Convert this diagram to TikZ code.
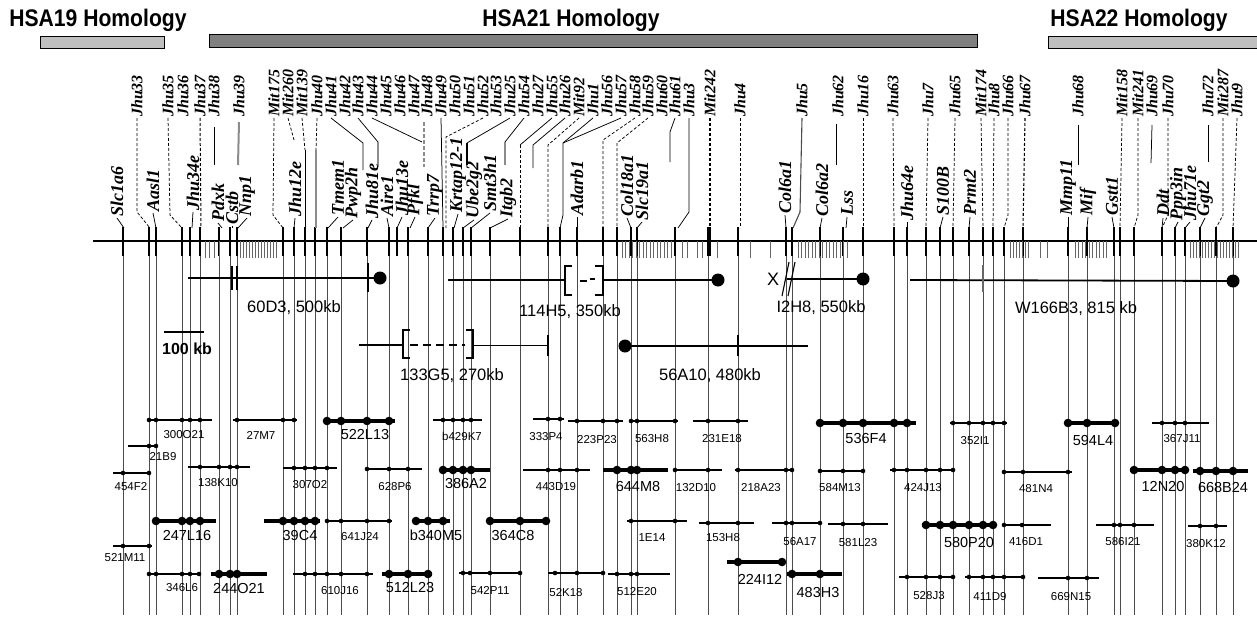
\documentclass[tikz,border=0pt]{standalone}
\usepackage{fontspec}
\setmainfont{Liberation Serif}
\setsansfont{Liberation Sans}
\newcommand\thinclone[7]{\draw[clthin] (#2,#4) -- (#3,#4);\foreach \d in {#5}{\fill (\d,#4) circle[radius=2.3pt];}\node[cllab] (c#1) at (#6,#7) {#1};}
\newcommand\boldclone[7]{\draw[clbold] (#2,#4) -- (#3,#4);\foreach \d in {#5}{\fill (\d,#4) circle[radius=4.3pt];}\node[clblab] (c#1) at (#6,#7) {#1};}
\begin{document}
\begin{tikzpicture}[x=1pt,y=-1pt,
  toplab/.style={rotate=90,anchor=west,inner sep=1pt,font=\fontsize{16}{16}\selectfont\bfseries\itshape},
  genelab/.style={rotate=90,anchor=west,inner sep=1pt,font=\fontsize{18}{18}\selectfont\bfseries\itshape},
  hsa/.style={anchor=base,inner sep=0pt,font=\sffamily\bfseries\fontsize{24}{24}\selectfont},
  dsh/.style={dash pattern=on 3pt off 2pt,line width=0.75pt},
  sol/.style={line width=0.75pt},
  gthick/.style={line width=2pt,black!45},
  vln/.style={line width=0.5pt,black!70},
  tickm/.style={line width=1.5pt},
  hatch/.style={line width=0.9pt,black!60},
  ctg/.style={line width=1.8pt},
  clthin/.style={line width=1.2pt},
  clbold/.style={line width=4pt},
  cllab/.style={inner sep=0pt,font=\sffamily\fontsize{11.5}{11.5}\selectfont},
  clblab/.style={inner sep=0pt,font=\sffamily\fontsize{14.5}{14.5}\selectfont},
  ctglab/.style={inner sep=0pt,font=\sffamily\fontsize{16.5}{16.5}\selectfont}]
\useasboundingbox (0,0) rectangle (1257,621);

% homology bars
\node[hsa] (h19) at (98,26) {\scalebox{0.88}[1]{HSA19 Homology}};
\node[hsa] (h21) at (571,26) {\scalebox{0.88}[1]{HSA21 Homology}};
\node[hsa] (h22) at (1139,26) {\scalebox{0.88}[1]{HSA22 Homology}};
\draw[fill=black!25,line width=0.8pt] (40,36) rectangle (164,48);
\draw[fill=black!50,line width=0.8pt] (209,34) rectangle (977,47);
\fill[black!25] (1048,36) rectangle (1257,48);
\draw[line width=0.8pt] (1257,36) -- (1048,36) -- (1048,48) -- (1257,48);

% long vertical marker lines
\foreach \x in {123,149,156,182,190,200,219,230,237,283,294,305,315,327,341,367,389,408,428,443,453,463,471,490,520,548,560,577,603,617,631,637,675,708,738,786,792,820,843,863,894,907,926,940,953,969,983,993,1004,1023,1068,1087,1114,1120,1134,1162,1175,1185,1200,1216,1233}
  \draw[vln] (\x,241) -- (\x,615);

% chromosome
\draw[line width=1.3pt] (93,241) -- (1257,241);
\foreach \x in {123,149,156,182,190,200,219,230,237,283,294,305,315,327,341,367,389,397,408,428,443,453,463,471,490,520,548,560,577,603,617,631,637,675,708,710,738,786,792,820,843,863,894,907,926,940,953,969,983,993,1004,1023,1068,1087,1114,1120,1134,1162,1175,1185,1200,1216,1233}
  \draw[tickm] (\x,227) -- (\x,256);
\foreach \x in {205,209,214,219,240,243,...,277,622,625.5,...,673,682,687,697,702,717,750,770,798,801.5,...,847,1010,1013,...,1030,1040,1047,1075,1078.5,...,1108,1190,1193,...,1238}
  \draw[hatch] (\x,241) -- (\x,258);

% top marker labels
\foreach \x/\t in {137/Jhu33,168/Jhu35,183/Jhu36,200/Jhu37,214/Jhu38,239/Jhu39,274/Mit175,288/Mit260,302/Mit139,317/Jhu40,331/Jhu41,345/Jhu42,358/Jhu43,372/Jhu44,386/Jhu45,400/Jhu46,414/Jhu47,427/Jhu48,441/Jhu49,455/Jhu50,469/Jhu51,483/Jhu52,496/Jhu53,510/Jhu25,524/Jhu54,538/Jhu27,552/Jhu55,565/Jhu26,579/Mit92,593/Jhu1,607/Jhu56,621/Jhu57,635/Jhu58,648/Jhu59,662/Jhu60,675/Jhu61,689/Jhu3,710/Mit242,740/Jhu4,802/Jhu5,838/Jhu62,863/Jhu16,893/Jhu63,928/Jhu7,955/Jhu65,981/Mit174,994/Jhu8,1008/Jhu66,1025/Jhu67,1078/Jhu68,1122/Mit158,1138/Mit241,1152/Jhu69,1168/Jhu70,1208/Jhu72,1223/Mit287,1237/Jhu9}
  \node[toplab] (\t) at (\x,118) {\t};

% top connectors
\draw[dsh] (Jhu33.west) -- (137,212) -- (150,228);
\draw[dsh] (Jhu35.west) -- (170,215) -- (182,228);
\draw[dsh,line width=1pt] (Jhu37.west) -- (201,228);
\draw[sol] (Jhu38.west) ++(0,9) -- (214,165);
\draw[gthick] (Jhu39.west) ++(0,4) -- (238,165);
\draw[dsh] (Mit175.west) -- (273,215) -- (283,228);
\draw[dsh] (Mit260.west) -- (294,140);
\draw[dsh] (Mit139.west) -- (305,150);
\draw[sol] (305,150) -- (305,228);
\draw[dsh] (Jhu40.west) -- (316,150);
\draw[gthick] (316,150) -- (316,228);
\draw[sol] (Jhu41.west) -- (363,143) -- (363,170);
\draw[sol] (Jhu43.west) -- (378,142);
\draw[gthick] (378,142) -- (378,167);
\draw[sol] (Jhu44.west) -- (422,142);
\draw[gthick,dash pattern=on 4pt off 2pt] (Jhu48.west) ++(-3,4) -- (424,167);
\draw[sol] (Jhu49.west) -- (443,228);
\draw[dsh] (Jhu52.west) -- (446,137) -- (446,228);
\draw[sol] (Jhu25.west) -- (467,143);
\draw[line width=2pt] (467,143) -- (467,165);
\draw[sol] (Jhu54.west) -- (505,142);
\draw[gthick] (505,142) -- (505,165);
\draw[sol] (Jhu55.west) -- (520,145);
\draw[dsh] (520,145) -- (520,228);
\draw[sol] (Jhu26.west) -- (533,145) -- (533,168);
\draw[dsh] (Mit92.west) -- (548,145) -- (548,228);
\draw[sol] (Jhu1.west) -- (563,143) -- (563,215) -- (560,228);
\draw[sol] (Jhu57.west) -- (563,143);
\draw[dsh] (Jhu58.west) -- (603,140) -- (603,228);
\draw[dsh] (Jhu59.west) -- (617,143) -- (617,228);
\draw[sol] (Jhu61.west) -- (670,132) -- (670,162);
\draw[sol] (Jhu3.west) -- (689,212) -- (678,228);
\draw[dsh,line width=1.2pt] (Mit242.west) -- (710,228);
\draw[dsh] (Jhu4.west) -- (740,228);
\draw[sol,line width=1.1pt,black!70] (Jhu5.west) -- (800,212) -- (793,228);
\draw[sol] (Jhu62.west) ++(-2,6) -- (836,165);
\draw[dsh] (Jhu16.west) -- (863,228);
\draw[dsh] (Jhu63.west) -- (894,228);
\draw[dsh] (Jhu7.west) -- (926,228);
\draw[dsh] (Jhu65.west) -- (953,228);
\draw[dsh] (Mit174.west) -- (983,228);
\draw[dsh] (Jhu8.west) -- (993,228);
\draw[dsh] (Jhu66.west) -- (1008,215) -- (1004,228);
\draw[dsh,line width=1.1pt] (Jhu67.west) -- (1023,228);
\draw[sol] (Jhu68.west) ++(0,7) -- (1078,165);
\draw[dsh] (Mit158.west) -- (1120,228);
\draw[dsh] (Mit241.west) -- (1138,215) -- (1134,228);
\draw[sol] (Jhu69.west) ++(0,7) -- (1151,163);
\draw[dsh] (Jhu70.west) -- (1168,215) -- (1162,228);
\draw[sol] (Jhu72.west) ++(0,7) -- (1208,162);
\draw[dsh] (Mit287.west) -- (1223,215) -- (1216,228);
\draw[dsh] (Jhu9.west) -- (1233,228);

% lower gene labels
\foreach \x/\y/\t/\tx in {117/218/Slc1a6/124,153/213/Aasl1/156,193/212/Jhu34e/192,218/223/Pdxk/222,232/226/Cstb/232,247/218/Nnp1/238,295/218/Jhu12e/294,338/217/Tmem1/328,353/220/Pwp2h/343,372/220/Jhu81e/368,387/218/Aire1/389,402/217/Jhu13e/397,415/217/Pfkl/410,435/218/Trrp7/428,458/214/Krtap12-1/454,474/220/Ube2g2/463,490/213/Smt3h1/471,508/219/Itgb2/490,577/217/Adarb1/577,627/218/Col18a1/631,642/222/Slc19a1/637,785/215/Col6a1/786,822/218/Col6a2/820,847/217/Lss/846,907/222/Jhu64e/907,943/217/S100B/940,970/217/Prmt2/969,1068/217/Mmp11/1068,1088/217/Mif/1087,1112/217/Gstt1/1114,1163/218/Ddt/1162,1178/222/Ppp3in/1175,1190/222/Jhu71e/1185,1205/218/Ggt2/1200}
  {\node[genelab] (\t) at (\x,\y) {\t};
   \draw[sol] (\t.west) -- (\tx,228);}

% contigs
\draw[ctg] (188,278) -- (380,278);
\fill (380,278) circle[radius=6.5pt];
\draw[line width=2pt] (368,263) -- (368,292);
\draw[line width=1.4pt] (232,266) -- (232,290) (237,266) -- (237,290);
\node[ctglab] (l60D3) at (294,308) {60D3, 500kb};

\draw[ctg] (448,280) -- (565,280);
\draw[line width=1.3pt] (572,266) -- (565,266) -- (565,295) -- (572,295);
\draw[line width=1.3pt] (580,281) -- (587,281) (590,279) -- (595,279);
\draw[line width=1.3pt] (595,266) -- (603,266) -- (603,295) -- (595,295);
\draw[ctg] (603,280) -- (718,280);
\fill (718,280) circle[radius=6.5pt];
\node[ctglab] (l114H5) at (570,312) {114H5, 350kb};

\node[inner sep=0pt,font=\sffamily\fontsize{18}{18}\selectfont] (xm) at (773,279) {X};
\draw[line width=1.1pt] (782,296) -- (789,262) (788,296) -- (795,262);
\draw[ctg] (xm.east) ++(8,0) -- (863,279);
\fill (863,279) circle[radius=6.5pt];
\node[ctglab] (lI2H8) at (821,308) {I2H8, 550kb};

\draw[ctg] (910,280) -- (1233,281);
\fill (1233,281) circle[radius=6.5pt];
\draw[gthick,line width=2.5pt,black!60] (983,265) -- (983,292);
\node[ctglab] (lW166B3) at (1076,309) {W166B3, 815 kb};

\draw[line width=2.2pt] (164,332) -- (204,332);
\node[anchor=west,inner sep=0pt,font=\sffamily\bfseries\fontsize{16}{16}\selectfont] (kb) at (162,349) {100 kb};

\draw[ctg] (359,345) -- (403,345);
\draw[line width=1.3pt] (410,330) -- (403,330) -- (403,358) -- (410,358);
\draw[line width=1.3pt,dash pattern=on 8pt off 5pt] (410,345) -- (465,345);
\draw[line width=1.3pt] (466,330) -- (473,330) -- (473,358) -- (466,358);
\draw[line width=1pt] (473,345) -- (548,345);
\draw[line width=1.5pt] (548,335) -- (548,356);
\node[ctglab] (l133G5) at (452,376) {133G5, 270kb};

\draw[ctg] (625,346) -- (808,346);
\fill (625,346) circle[radius=6.5pt];
\draw[line width=1.5pt] (738,335) -- (738,356);
\node[ctglab] (l56A10) at (710,376) {56A10, 480kb};

% clones
\thinclone{300O21}{147}{212}{420}{149,156,182,190,200}{184}{435}
\thinclone{27M7}{233}{297}{420}{237,283,294}{261}{435}
\thinclone{21B9}{128}{158}{446}{149,156}{163}{457}
\thinclone{454F2}{113}{150}{473}{123,149}{131}{487}
\thinclone{138K10}{188}{250}{467}{200,219,230,237}{218}{483}
\thinclone{307O2}{283}{337}{468}{294,305,315,327}{310}{485}
\thinclone{628P6}{365}{422}{469}{367,389,408}{395}{487}
\thinclone{641J24}{325}{392}{521}{327,341,367,389}{360}{537}
\thinclone{521M11}{113}{152}{546}{123,149}{125}{558}
\thinclone{346L6}{147}{200}{574}{149,156,182,190,199}{182}{588}
\thinclone{610J16}{293}{373}{574}{305,315,327,341,367}{340}{591}
\thinclone{b429K7}{433}{482}{420}{443,453,463,471}{462}{436}
\thinclone{333P4}{533}{564}{419}{548,560}{546}{437}
\thinclone{223P23}{568}{623}{421}{577,603,617}{597}{440}
\thinclone{563H8}{629}{678}{421}{631,637,675}{652}{439}
\thinclone{231E18}{693}{748}{421}{708,738}{722}{439}
\thinclone{443D19}{523}{590}{470}{548,560,577}{556}{487}
\thinclone{132D10}{673}{722}{470}{675,708}{696}{488}
\thinclone{218A23}{735}{793}{470}{738,786,792}{761}{488}
\thinclone{584M13}{818}{865}{471}{820,843,863}{840}{488}
\thinclone{1E14}{627}{687}{521}{631,675}{652}{538}
\thinclone{153H8}{699}{754}{523}{708,738}{723}{538}
\thinclone{56A17}{772}{820}{523}{786,792,820}{800}{542}
\thinclone{581L23}{828}{888}{524}{843,863}{858}{543}
\thinclone{542P11}{459}{520}{573}{463,470,490,520}{490}{591}
\thinclone{52K18}{548}{605}{573}{555,577,603}{566}{593}
\thinclone{512E20}{608}{670}{574}{617,631,637}{637}{592}
\thinclone{352I1}{950}{1007}{423}{953,969,983,993,1004}{975}{441}
\thinclone{367J11}{1152}{1209}{423}{1162,1175,1185}{1182}{439}
\thinclone{424J13}{890}{955}{470}{894,907,926,940,953}{923}{488}
\thinclone{481N4}{1002}{1072}{472}{1004,1023,1068}{1036}{489}
\thinclone{416D1}{1002}{1051}{525}{1004,1022}{1026}{542}
\thinclone{586I21}{1096}{1154}{525}{1114,1120,1134}{1123}{542}
\thinclone{380K12}{1188}{1227}{526}{1200,1216}{1206}{544}
\thinclone{528J3}{899}{954}{577}{907,926,940,953}{929}{596}
\thinclone{411D9}{965}{1025}{577}{969,983,993,1004,1023}{990}{597}
\thinclone{669N15}{1038}{1099}{578}{1068,1087}{1071}{597}

\boldclone{522L13}{325}{395}{421}{327,341,367,389}{365}{435}
\boldclone{247L16}{153}{216}{521}{156,182,190,200}{187}{535}
\boldclone{39C4}{264}{320}{521}{283,294,305,315}{300}{535}
\boldclone{244O21}{211}{267}{574}{219,230,237}{239}{588}
\boldclone{512L23}{382}{432}{574}{389,408,428}{410}{587}
\boldclone{386A2}{440}{490}{470}{443,453,463,471}{466}{484}
\boldclone{b340M5}{413}{450}{521}{416,428,443}{436}{535}
\boldclone{364C8}{488}{548}{521}{490,520,546}{513}{535}
\boldclone{644M8}{603}{668}{470}{617,631,637}{638}{487}
\boldclone{536F4}{818}{916}{423}{820,843,863,894,907}{866}{439}
\boldclone{224I12}{727}{785}{562}{738,782}{760}{579}
\boldclone{483H3}{787}{842}{574}{792,820}{818}{592}
\boldclone{580P20}{922}{995}{525}{926,940,953,969,983,993}{969}{542}
\boldclone{594L4}{1065}{1118}{423}{1068,1087,1115}{1093}{441}
\boldclone{12N20}{1130}{1187}{470}{1134,1162,1175,1185}{1163}{487}
\boldclone{668B24}{1193}{1248}{471}{1200,1216,1233}{1223}{488}
\end{tikzpicture}
\end{document}
